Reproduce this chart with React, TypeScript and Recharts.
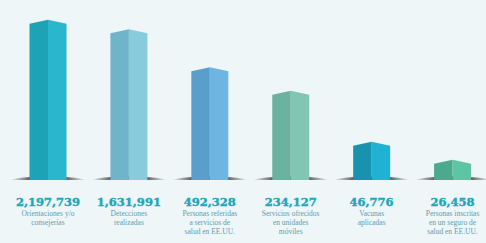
import React from 'react';
import { BarChart, Bar, XAxis, YAxis } from 'recharts';

const categoryLines: string[][] = [
  ['Orientaciones y/o', 'consejerías'],
  ['Detecciones', 'realizadas'],
  ['Personas referidas', 'a servicios de', 'salud en EE.UU.'],
  ['Servicios ofrecidos', 'en unidades', 'móviles'],
  ['Vacunas', 'aplicadas'],
  ['Personas inscritas', 'en un seguro de', 'salud en EE.UU.'],
];
const values: number[] = [2197739, 1631991, 492328, 234127, 46776, 26458];
const valueLabels: string[] = ['2,197,739', '1,631,991', '492,328', '234,127', '46,776', '26,458'];
const leftColors: string[] = ['#1ea2b6', '#6fb4c9', '#5a9fcb', '#6cb2a0', '#1892ae', '#4aab8c'];
const rightColors: string[] = ['#2ab6cc', '#88cbdd', '#6cb6e1', '#80c6b2', '#20b2d3', '#5ec4a2'];

const data = values.map((v, i) => ({ name: categoryLines[i].join(' '), value: v }));

const PrismBar = (props: any) => {
  const { x, y, width, height, index } = props;
  if (height == null || width == null) return null;
  const bottom = y + height;
  const cx = x + width / 2;
  const r = 4;
  return (
    <g>
      <ellipse cx={cx} cy={bottom + 1} rx={38} ry={4.5} fill="url(#shadowGrad)" />
      <polygon points={`${x},${y + r} ${cx},${y} ${cx},${bottom} ${x},${bottom}`} fill={leftColors[index]} />
      <polygon points={`${cx},${y} ${x + width},${y + r} ${x + width},${bottom} ${cx},${bottom}`} fill={rightColors[index]} />
    </g>
  );
};

const CategoryTick = (props: any) => {
  const { x, y, payload } = props;
  const i = payload.index;
  return (
    <g>
      <text x={x} y={y + 25.5} textAnchor="middle" fontFamily="DejaVu Serif" fontWeight="bold" fontSize={11.5} fill="#1ea6ba" stroke="#1ea6ba" strokeWidth={0.4}>
        {valueLabels[i]}
      </text>
      {categoryLines[i].map((line, k) => (
        <text key={k} x={x} y={y + 36 + k * 9} textAnchor="middle" fontFamily="Liberation Serif" fontSize={7.5} fill="#5f9cad">
          {line}
        </text>
      ))}
    </g>
  );
};

export default function App() {
  return (
    <div style={{ position: 'absolute', left: 0, top: 0, width: 486, height: 243, overflow: 'hidden', background: '#eef6f8' }}>
      <BarChart width={500} height={243} data={data} margin={{ top: 5, right: 7, left: 7.5, bottom: 0 }}>
        <defs>
          <linearGradient id="shadowGrad" x1="0" y1="0" x2="1" y2="0">
            <stop offset="0%" stopColor="#3a3535" stopOpacity={0} />
            <stop offset="25%" stopColor="#3a3535" stopOpacity={0.75} />
            <stop offset="50%" stopColor="#2a2626" stopOpacity={0.95} />
            <stop offset="75%" stopColor="#3a3535" stopOpacity={0.75} />
            <stop offset="100%" stopColor="#3a3535" stopOpacity={0} />
          </linearGradient>
        </defs>
        <XAxis dataKey="name" height={63} axisLine={false} tickLine={false} tickSize={0} tickMargin={0} interval={0} tick={<CategoryTick />} />
        <YAxis hide scale="log" domain={[14000, 3500000]} allowDataOverflow type="number" />
        <Bar dataKey="value" barSize={37} shape={<PrismBar />} isAnimationActive={false} />
      </BarChart>
    </div>
  );
}
